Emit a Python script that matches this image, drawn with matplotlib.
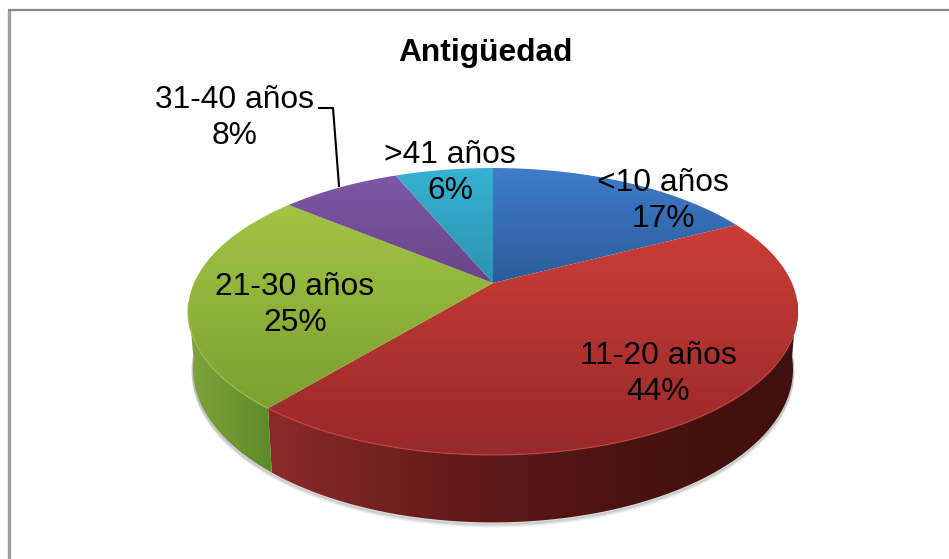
import numpy as np
import matplotlib
matplotlib.use('Agg')
import matplotlib.pyplot as plt
from matplotlib.colors import LinearSegmentedColormap
from matplotlib.patches import Polygon

categories = ['<10 años', '11-20 años', '21-30 años', '31-40 años', '>41 años']
values = [17.4, 43.6, 25.0, 7.7, 6.3]

# colores de cada porcion: arriba, abajo
top_colors = [('#3f7ccb', '#2a5c99'), ('#cc3d38', '#97292a'), ('#a2c545', '#7c9f31'),
              ('#7f57a5', '#684585'), ('#36b2d3', '#2c93b0')]
# posicion del centro de cada etiqueta (px)
label_pos = [(663, 201), (658, 374), (295, 305), (235, 118), (450, 173)]

plt.rcParams['font.family'] = ['Liberation Sans', 'DejaVu Sans']
fig = plt.figure(figsize=(9.49, 5.59), dpi=100)
ax = fig.add_axes([0, 0, 1, 1])
ax.set_xlim(0, 949)
ax.set_ylim(559, 0)
ax.axis('off')

K = 0.1986


def disc(theta, cx, cy, a, b):
    # disco con perspectiva; theta en grados desde arriba, horario
    t = np.radians(theta)
    u, v = np.sin(t), np.cos(t)
    d = 1 + K * v
    return cx + b * u / d, cy - a * v / d


def top_disc(theta):
    return disc(theta, 493, 283, 137.8, 298.9)


def low_disc(theta):
    return disc(theta, 493, 338.6, 147.3, 294.0)


def grad_fill(pts, cmap, extent, horizontal=False):
    g = np.linspace(0, 1, 256)
    g = g.reshape(1, -1) if horizontal else g.reshape(-1, 1)
    im = ax.imshow(g, cmap=cmap, extent=extent, aspect='auto', interpolation='bilinear',
                   vmin=0, vmax=1, zorder=3)
    patch = Polygon(pts, closed=True, transform=ax.transData, fc='none', ec='none')
    ax.add_patch(patch)
    im.set_clip_path(patch)


edges = np.cumsum([0] + values) / sum(values) * 360

# sombra
ts = np.linspace(95, 265, 200)
for off, alpha in [(4, 0.05), (3, 0.07), (2, 0.10), (1, 0.14)]:
    sx, sy = low_disc(ts)
    ax.plot(sx, sy + off, color='#444444', lw=2, alpha=alpha, zorder=1, solid_capstyle='round')

# paredes laterales
side_red = LinearSegmentedColormap.from_list('r', [(0, '#8b2b29'), (0.4, '#5e1917'),
                                                   (0.7, '#481311'), (1, '#3f100e')])
side_green = LinearSegmentedColormap.from_list('g', ['#7fa53b', '#5d8a2a'])
a0 = 97
a1 = edges[2]
a2 = 262
ta = np.linspace(a0, a1, 150)
x1, y1 = top_disc(ta)
x2, y2 = low_disc(ta)
pts = np.r_[np.c_[x1, y1], np.c_[x2, y2][::-1]]
grad_fill(pts, side_red, (pts[:, 0].min(), pts[:, 0].max(), 530, 200), True)
ta = np.linspace(a1, a2, 80)
x1, y1 = top_disc(ta)
x2, y2 = low_disc(ta)
pts = np.r_[np.c_[x1, y1], np.c_[x2, y2][::-1]]
grad_fill(pts, side_green, (pts[:, 0].min(), pts[:, 0].max(), 530, 200), True)

# porciones de arriba
for i in range(len(values)):
    ta = np.linspace(edges[i], edges[i + 1], 200)
    x, y = top_disc(ta)
    pts = np.r_[[[493, 283]], np.c_[x, y]]
    cmap = LinearSegmentedColormap.from_list('t%d' % i, top_colors[i])
    grad_fill(pts, cmap, (pts[:, 0].min() - 1, pts[:, 0].max() + 1, pts[:, 1].max() + 1, pts[:, 1].min() - 1))

# brillo del borde
ta = np.linspace(edges[1] + 60, edges[2], 120)
x, y = top_disc(ta)
ax.plot(x, y, color='#c8433e', lw=1, alpha=0.7, zorder=4)
ta = np.linspace(edges[2], 262, 60)
x, y = top_disc(ta)
ax.plot(x, y, color='#9dbf48', lw=1, alpha=0.7, zorder=4)

# marco
ax.plot([9, 9], [559, 10], color='#a0a0a0', lw=2.4, zorder=5, solid_capstyle='butt')
ax.plot([8, 949], [10, 10], color='#868686', lw=1.6, zorder=5, solid_capstyle='butt')

# linea guia de 31-40
ax.plot([319, 333, 339], [108, 108, 186], color='black', lw=1.5, zorder=6)

ax.text(485, 53, 'Antigüedad', fontsize=22.9, fontweight='bold', ha='center', va='center', zorder=7)
for cat, val, (lx, ly) in zip(categories, values, label_pos):
    ax.text(lx, ly, f'{cat}\n{val:.0f}%', fontsize=22.9, ha='center', va='center', linespacing=1.24, zorder=7)

fig.savefig('out.png', dpi=100)
